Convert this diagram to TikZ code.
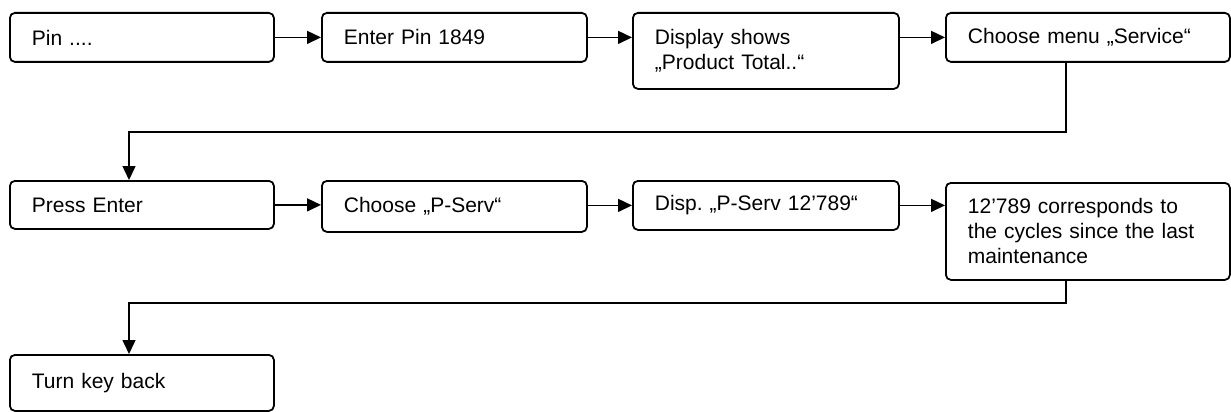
\documentclass[tikz,border=0pt]{standalone}
\usepackage{fontspec}
\setmainfont{Liberation Sans}
\usetikzlibrary{arrows.meta}

\tikzset{
  stepbox/.style={draw, rounded corners=5pt, line width=1.8pt, anchor=north west,
    align=left, inner xsep=22pt, inner ysep=0pt,
    font=\fontsize{21}{25}\selectfont\frenchspacing},
  flow/.style={line width=1.5pt, -{Triangle[length=14pt,width=13pt]}}
}

\begin{document}
\begin{tikzpicture}[x=1pt,y=-1pt]
    \useasboundingbox (0,0) rectangle (1231,412);
    % first row
    \node[stepbox, text width=220pt, minimum height=49pt] (pin) at (9,12) {Pin ....};
    \node[stepbox, text width=221pt, minimum height=49pt] (enter) at (321,12) {Enter Pin 1849};
    \node[stepbox, text width=222pt, minimum height=76pt] (display) at (632,12) {Display shows\\„Product Total..“};
    \node[stepbox, text width=240pt, minimum height=49pt] (menu) at (945,12) {Choose menu „Service“};
    % second row
    \node[stepbox, text width=220pt, minimum height=48pt] (press) at (9,180) {Press Enter};
    \node[stepbox, text width=221pt, minimum height=51pt] (choose) at (321,180) {Choose „P-Serv“};
    \node[stepbox, text width=222pt, minimum height=49pt] (disp) at (632,180) {Disp. „P-Serv 12’789“};
    \node[stepbox, text width=240pt, minimum height=97pt] (cycles) at (945,182) {12’789 corresponds to\\the cycles since the last\\maintenance};
    % last row
    \node[stepbox, text width=220pt, minimum height=56pt] (turn) at (9,354) {Turn key back};

    \draw[flow] (pin.east) -- (enter.west);
    \draw[flow] (enter.east) -- (enter.east -| display.west);
    \draw[flow] (menu.west -| display.east) -- (menu.west);
    \draw[flow] (press.east) -- (press.east -| choose.west);
    \draw[flow] (disp.east -| choose.east) -- (disp.west);
    \draw[flow] (disp.east) -- (disp.east -| cycles.west);

    \coordinate (a1) at (1066,132);
    \coordinate (a2) at (129,132);
    \draw[flow] (menu.south -| a1) -- (a1) -- (a2) -- (press.north -| a2);
    \coordinate (b1) at (1066,303);
    \coordinate (b2) at (129,303);
    \draw[flow] (cycles.south -| b1) -- (b1) -- (b2) -- (turn.north -| b2);
\end{tikzpicture}
\end{document}
